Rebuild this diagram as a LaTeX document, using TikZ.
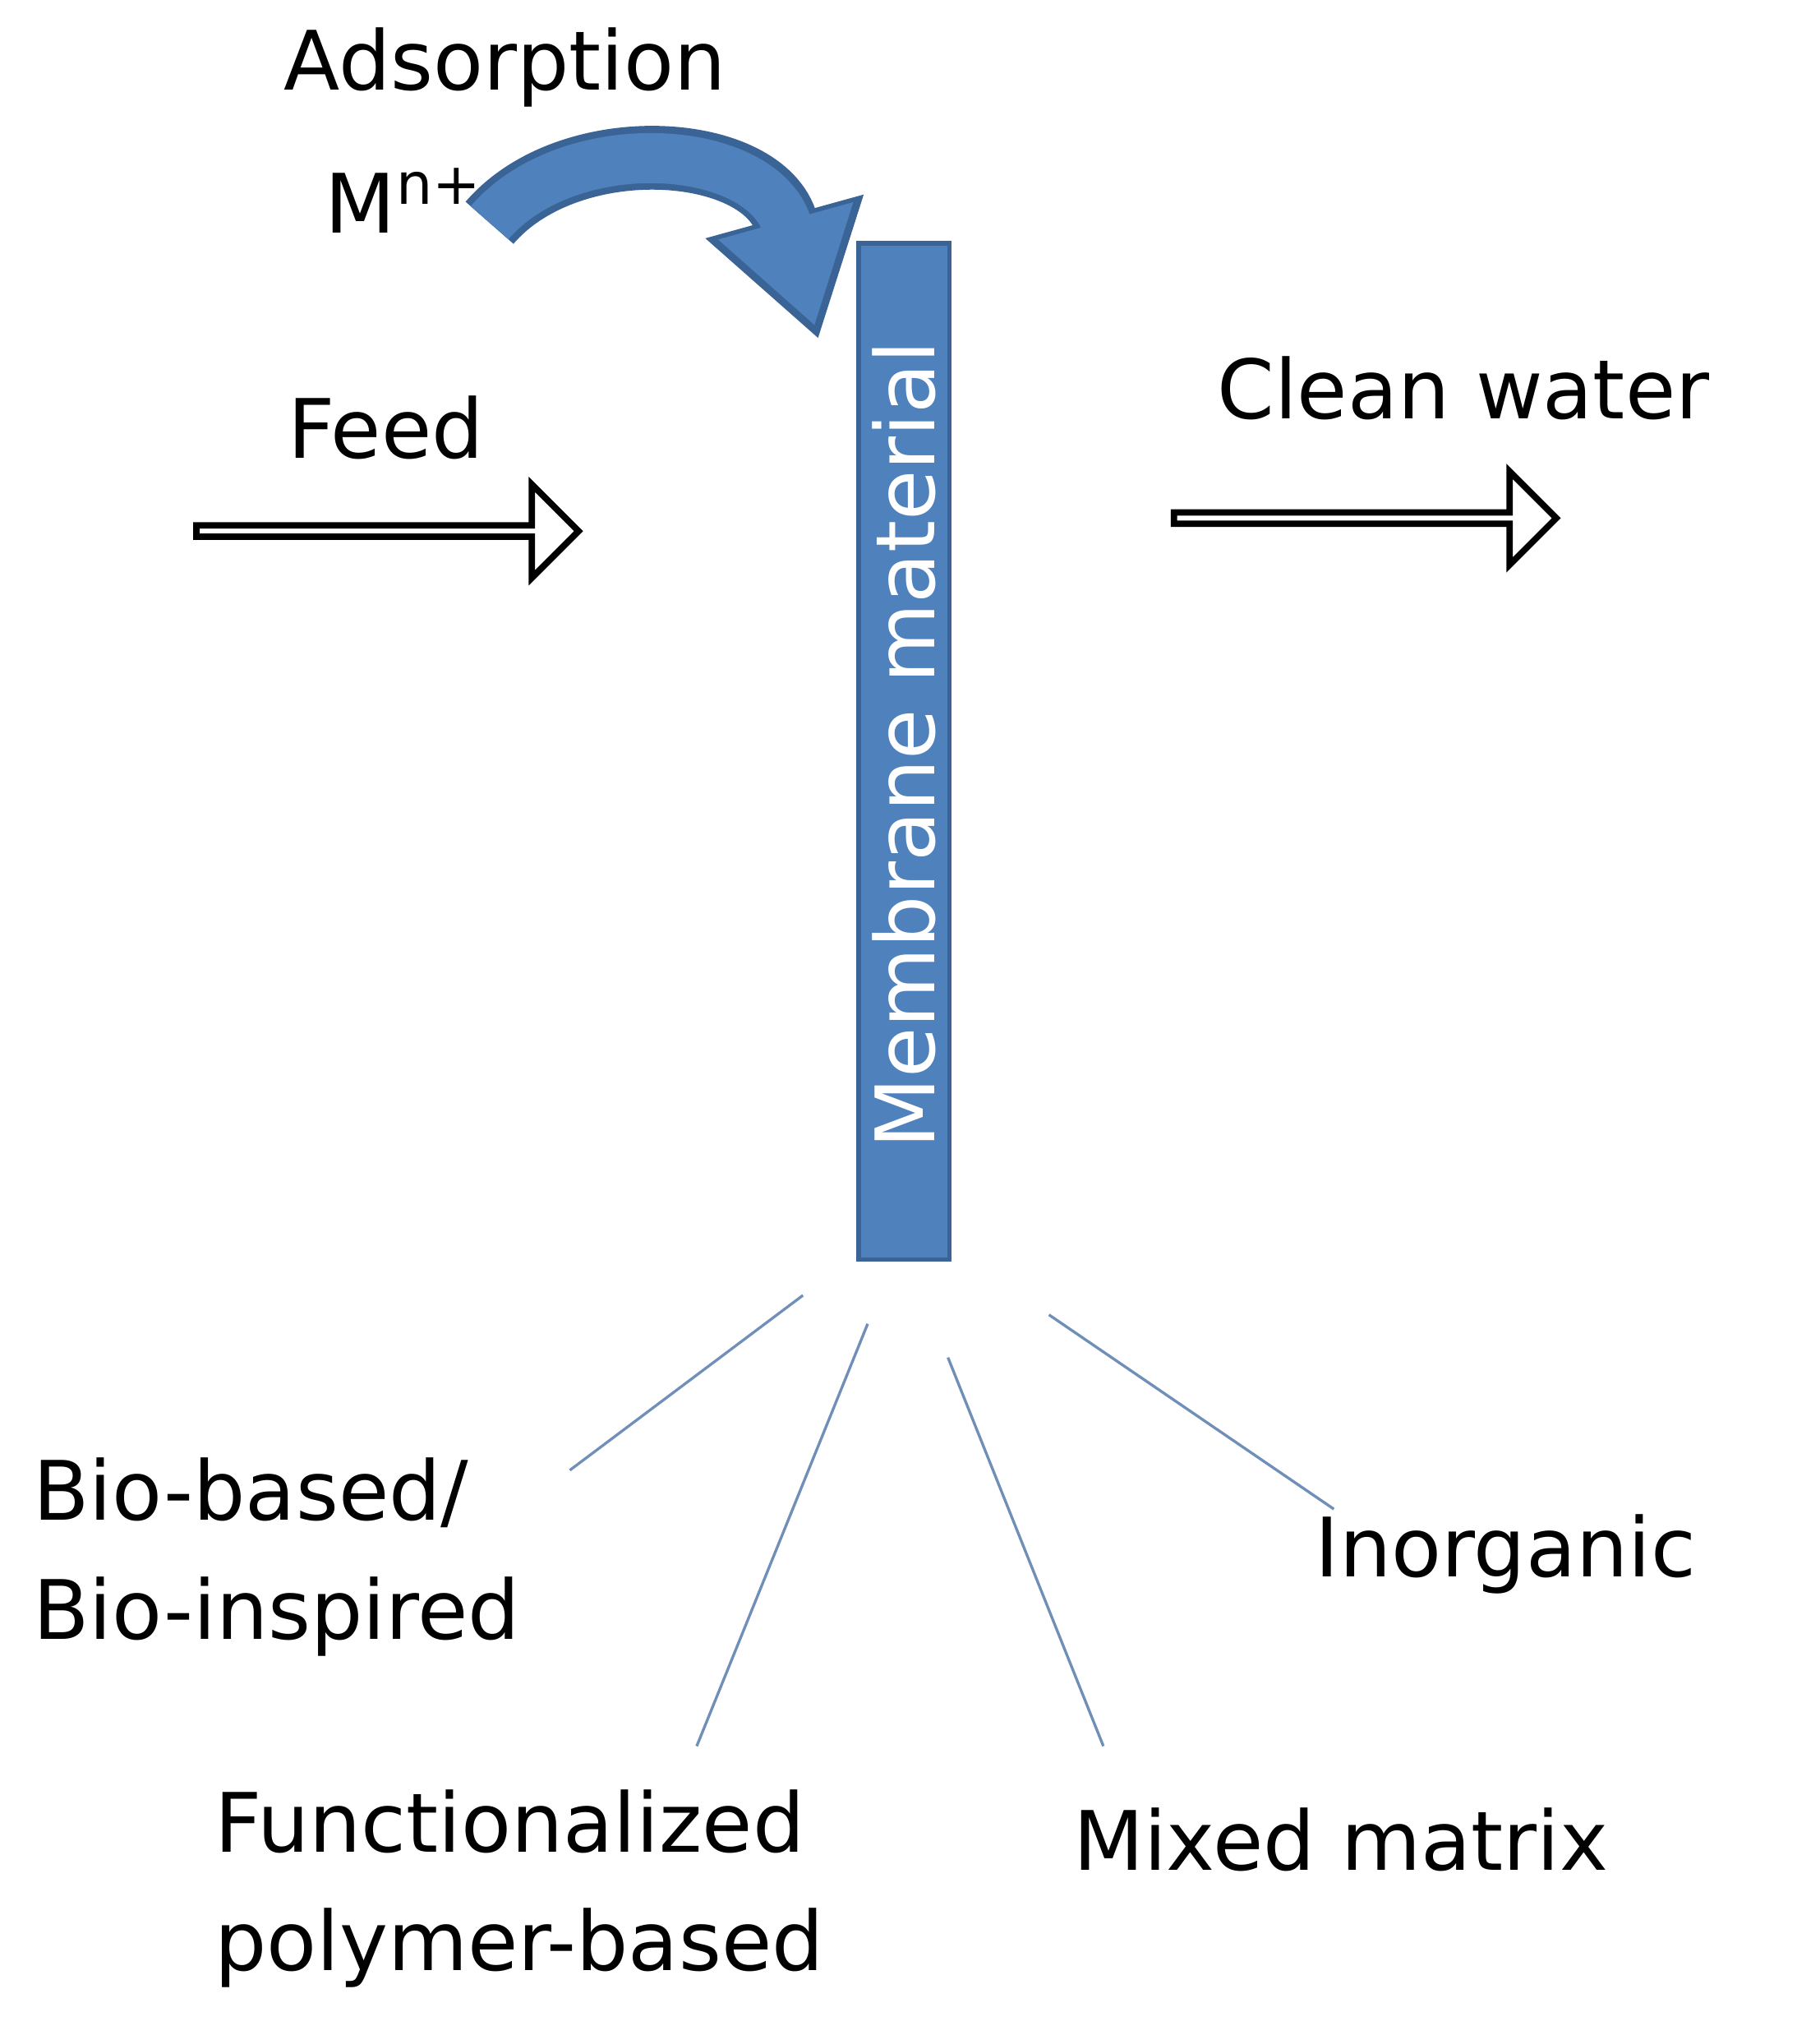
\documentclass[tikz,border=0pt]{standalone}
\usepackage{fontspec}
\setmainfont{DejaVu Sans}
\usetikzlibrary{arrows.meta,shapes.arrows}
\definecolor{memb}{HTML}{4F81BD}
\definecolor{membd}{HTML}{3A6496}
\definecolor{linec}{HTML}{6F8FB8}
\tikzset{
 lbl/.style={font=\fontsize{18}{24}\selectfont, inner sep=0pt},
 hollow/.style={draw=black, line width=1.4pt, fill=white, single arrow, minimum height=2.95cm, minimum width=0.72cm, single arrow head extend=0.18cm, single arrow head indent=0pt, inner sep=0pt},
 branch/.style={draw=linec, line width=0.6pt}
}
\begin{document}
\begin{tikzpicture}[x=0.01cm,y=-0.01cm]
\useasboundingbox (0,0) rectangle (1405,1571);
\node[draw=membd, fill=memb, line width=1pt, minimum width=0.7cm, minimum height=7.84cm, inner sep=0pt] (bar) at (698,580) {};
\node[lbl, text=white, rotate=90] (bartxt) at (698,575) {Membrane material};
\coordinate (cs) at (378,172);
\coordinate (ce) at (632,262);
\draw[membd, line width=14pt, -{Triangle[length=28pt,width=34pt]}] (cs) .. controls (440,100) and (590,110) .. (ce);
\draw[memb, line width=11pt, -{Triangle[length=24pt,width=29pt]}, shorten >=3pt] (cs) .. controls (440,100) and (590,110) .. (ce);
\node[lbl] (ads) at (390,52) {Adsorption};
\node[lbl] (m) at (312,155) {M\textsuperscript{n+}};
\node[lbl] (feed) at (298,330) {Feed};
\node[lbl] (clean) at (1130,300) {Clean water};
\node[hollow] (fa) at (297,410) {};
\node[hollow] (ca) at (1052,400) {};
\coordinate (b1s) at (620,1000); \coordinate (b1e) at (440,1135);
\coordinate (b2s) at (670,1022); \coordinate (b2e) at (538,1348);
\coordinate (b3s) at (732,1048); \coordinate (b3e) at (852,1348);
\coordinate (b4s) at (810,1015); \coordinate (b4e) at (1030,1165);
\draw[branch] (b1s) -- (b1e);
\draw[branch] (b2s) -- (b2e);
\draw[branch] (b3s) -- (b3e);
\draw[branch] (b4s) -- (b4e);
\node[lbl, anchor=west, align=left] (bio) at (25,1202) {Bio-based/\\[2pt]Bio-inspired};
\node[lbl, anchor=west, align=left] (func) at (165,1458) {Functionalized\\[2pt]polymer-based};
\node[lbl, anchor=west] (mix) at (828,1420) {Mixed matrix};
\node[lbl, anchor=west] (inorg) at (1015,1200) {Inorganic};
\end{tikzpicture}
\end{document}
